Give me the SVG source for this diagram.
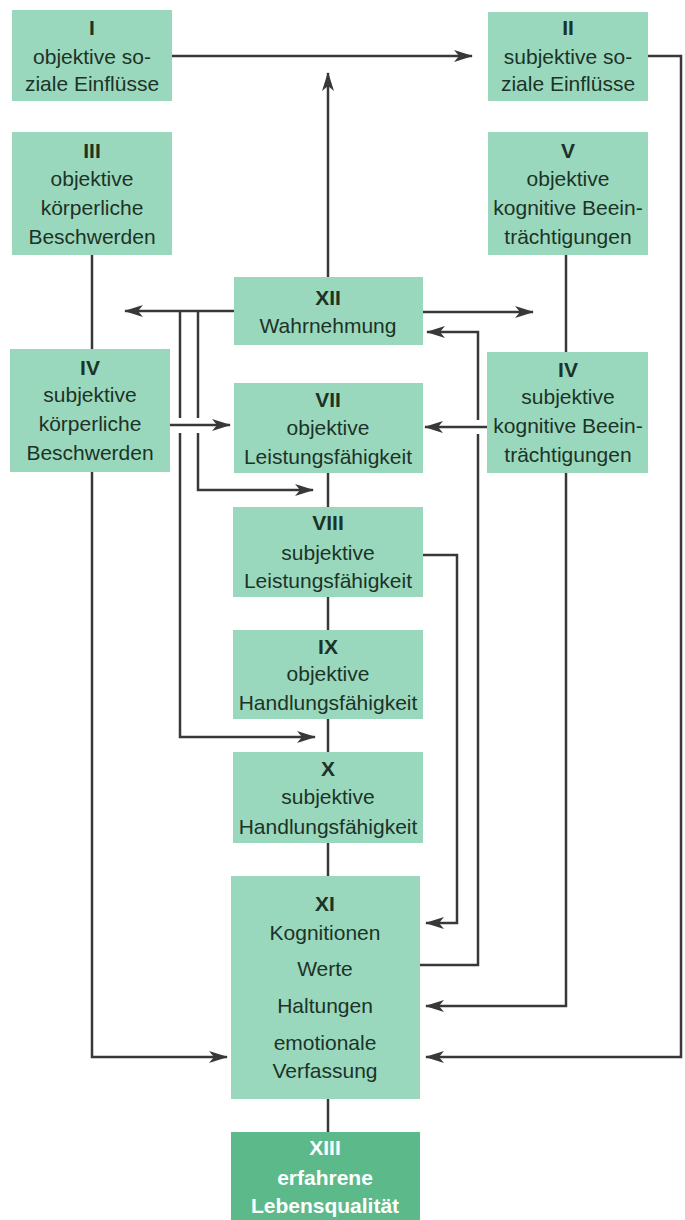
<svg xmlns="http://www.w3.org/2000/svg" width="685" height="1220" viewBox="0 0 685 1220">
<style>
.box{fill:#9ad8bd}
.dark{fill:#5cb98a}
text{font-family:"Liberation Sans","DejaVu Sans",sans-serif;font-size:21px;fill:#1c3327;text-anchor:middle}
.n{font-weight:bold}
.w{fill:#ffffff;font-weight:bold}
.c{fill:none;stroke:#383838;stroke-width:2.5}
</style>
<defs>
<marker id="ah" markerUnits="userSpaceOnUse" markerWidth="20" markerHeight="14" refX="18" refY="7" orient="auto">
<path d="M0,1 L19,7 L0,13 L5,7 Z" fill="#383838"/>
</marker>
</defs>
<rect width="685" height="1220" fill="#ffffff"/>
<g id="connectors">
<path class="c" d="M172,56 H472" marker-end="url(#ah)"/>
<path class="c" d="M328,277 V73" marker-end="url(#ah)"/>
<path class="c" d="M648,56 H681 V1057 H426" marker-end="url(#ah)"/>
<path class="c" d="M92,255 V349"/>
<path class="c" d="M566,255 V352"/>
<path class="c" d="M234,311 H125" marker-end="url(#ah)"/>
<path class="c" d="M423,312 H533" marker-end="url(#ah)"/>
<path class="c" d="M180,311 V418"/>
<path class="c" d="M180,433 V737 H315" marker-end="url(#ah)"/>
<path class="c" d="M198,311 V418"/>
<path class="c" d="M198,433 V490 H313" marker-end="url(#ah)"/>
<path class="c" d="M170,425 H230" marker-end="url(#ah)"/>
<path class="c" d="M487,427 H425" marker-end="url(#ah)"/>
<path class="c" d="M420,965 H478 V434"/>
<path class="c" d="M478,420 V332 H427" marker-end="url(#ah)"/>
<path class="c" d="M328,473 V507"/>
<path class="c" d="M328,597 V630"/>
<path class="c" d="M328,719 V752"/>
<path class="c" d="M328,843 V876"/>
<path class="c" d="M328,1099 V1132"/>
<path class="c" d="M423,555 H457 V923 H426" marker-end="url(#ah)"/>
<path class="c" d="M566,473 V1006 H426" marker-end="url(#ah)"/>
<path class="c" d="M92,472 V1057 H227" marker-end="url(#ah)"/>
</g>
<g id="n1"><rect class="box" x="12" y="10" width="160" height="91"/>
<text class="n" x="92" y="35">I</text><text x="92" y="64">objektive so-</text><text x="92" y="91">ziale Einflüsse</text></g>
<g id="n2"><rect class="box" x="488" y="12" width="160" height="89"/>
<text class="n" x="568" y="35">II</text><text x="568" y="64">subjektive so-</text><text x="568" y="91">ziale Einflüsse</text></g>
<g id="n3"><rect class="box" x="12" y="132" width="160" height="123"/>
<text class="n" x="92" y="158">III</text><text x="92" y="186">objektive</text><text x="92" y="215">körperliche</text><text x="92" y="244">Beschwerden</text></g>
<g id="n5"><rect class="box" x="488" y="132" width="160" height="123"/>
<text class="n" x="568" y="158">V</text><text x="568" y="186">objektive</text><text x="568" y="215">kognitive Beein-</text><text x="568" y="244">trächtigungen</text></g>
<g id="n12"><rect class="box" x="234" y="277" width="189" height="68"/>
<text class="n" x="328" y="305">XII</text><text x="328" y="333">Wahrnehmung</text></g>
<g id="n4"><rect class="box" x="10" y="349" width="160" height="123"/>
<text class="n" x="90" y="375">IV</text><text x="90" y="402">subjektive</text><text x="90" y="431">körperliche</text><text x="90" y="460">Beschwerden</text></g>
<g id="n6"><rect class="box" x="487" y="352" width="161" height="121"/>
<text class="n" x="568" y="377">IV</text><text x="568" y="404">subjektive</text><text x="568" y="433">kognitive Beein-</text><text x="568" y="462">trächtigungen</text></g>
<g id="n7"><rect class="box" x="234" y="383" width="189" height="90"/>
<text class="n" x="328" y="407">VII</text><text x="328" y="435">objektive</text><text x="328" y="464">Leistungsfähigkeit</text></g>
<g id="n8"><rect class="box" x="233" y="507" width="190" height="90"/>
<text class="n" x="328" y="530">VIII</text><text x="328" y="560">subjektive</text><text x="328" y="588">Leistungsfähigkeit</text></g>
<g id="n9"><rect class="box" x="233" y="630" width="190" height="89"/>
<text class="n" x="328" y="654">IX</text><text x="328" y="681">objektive</text><text x="328" y="710">Handlungsfähigkeit</text></g>
<g id="n10"><rect class="box" x="233" y="752" width="190" height="91"/>
<text class="n" x="328" y="776">X</text><text x="328" y="804">subjektive</text><text x="328" y="834">Handlungsfähigkeit</text></g>
<g id="n11"><rect class="box" x="231" y="876" width="189" height="223"/>
<text class="n" x="325" y="911">XI</text><text x="325" y="940">Kognitionen</text><text x="325" y="976">Werte</text><text x="325" y="1013">Haltungen</text><text x="325" y="1050">emotionale</text><text x="325" y="1078">Verfassung</text></g>
<g id="n13"><rect class="dark" x="231" y="1132" width="189" height="88"/>
<text class="w" x="325" y="1155">XIII</text><text class="w" x="325" y="1185">erfahrene</text><text class="w" x="325" y="1213">Lebensqualität</text></g>
</svg>
